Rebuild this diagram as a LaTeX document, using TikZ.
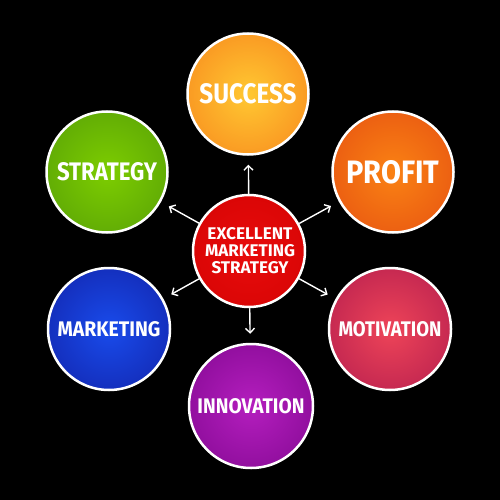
\documentclass[tikz,border=0pt]{standalone}
\usepackage{fontspec}
\setmainfont{Fira Sans}
\usetikzlibrary{arrows.meta}
\colorlet{cin}{white}
\colorlet{cout}{black}
\pgfdeclareradialshading[cin,cout]{glow}{\pgfpoint{0bp}{0bp}}{color(0bp)=(cin); color(50bp)=(cout)}
\definecolor{sucIn}{RGB}{255,200,50}\definecolor{sucOut}{RGB}{245,110,20}
\definecolor{proIn}{RGB}{250,130,20}\definecolor{proOut}{RGB}{222,62,15}
\definecolor{strIn}{RGB}{125,205,0}\definecolor{strOut}{RGB}{72,142,10}
\definecolor{marIn}{RGB}{25,75,235}\definecolor{marOut}{RGB}{15,20,145}
\definecolor{innIn}{RGB}{180,30,190}\definecolor{innOut}{RGB}{112,0,128}
\definecolor{motIn}{RGB}{238,68,88}\definecolor{motOut}{RGB}{158,14,74}
\definecolor{cenIn}{RGB}{232,12,12}\definecolor{cenOut}{RGB}{205,0,0}
\newcommand\lab[3]{\resizebox{#1pt}{#2pt}{\bfseries #3}}
\tikzset{
  bub/.style n args={3}{circle, inner sep=0pt, minimum size=#1pt, draw=white, line width=2.5pt,
    /utils/exec={\colorlet{cin}{#2}\colorlet{cout}{#3}}, shading=glow, text=white},
  arr/.style={draw=white, line width=1.4pt, -{Straight Barb[length=4.5pt,width=9pt]}, shorten >=9pt},
  txt/.style={text=white, inner sep=0pt}
}
\begin{document}
\begin{tikzpicture}[x=1pt,y=-1pt]
\fill[black] (0,0) rectangle (500,500);
\useasboundingbox (0,0) rectangle (500,500);
\node[bub={112}{cenIn}{cenOut}] (c) at (249,251) {};
\node[txt] (c1) at (250,234) {\lab{85}{12}{EXCELLENT}};
\node[txt] (c2) at (250,251) {\lab{90}{12}{MARKETING}};
\node[txt] (c3) at (250,268) {\lab{77}{12}{STRATEGY}};
\node[bub={121}{sucIn}{sucOut}] (s) at (248,94) {\lab{97}{20}{SUCCESS}};
\node[bub={121}{proIn}{proOut}] (p) at (393,172) {\lab{93}{23}{PROFIT}};
\node[bub={121}{strIn}{strOut}] (st) at (107,172) {\lab{100}{18}{STRATEGY}};
\node[bub={122}{marIn}{marOut}] (m) at (109,329) {\lab{103}{15}{MARKETING}};
\node[bub={122}{motIn}{motOut}] (mo) at (390,329) {\lab{103}{15}{MOTIVATION}};
\node[bub={124}{innIn}{innOut}] (i) at (251,406) {\lab{107}{15}{INNOVATION}};
\foreach \t in {s,p,st,m,mo,i} \draw[arr] (c) -- (\t);
\end{tikzpicture}
\end{document}
